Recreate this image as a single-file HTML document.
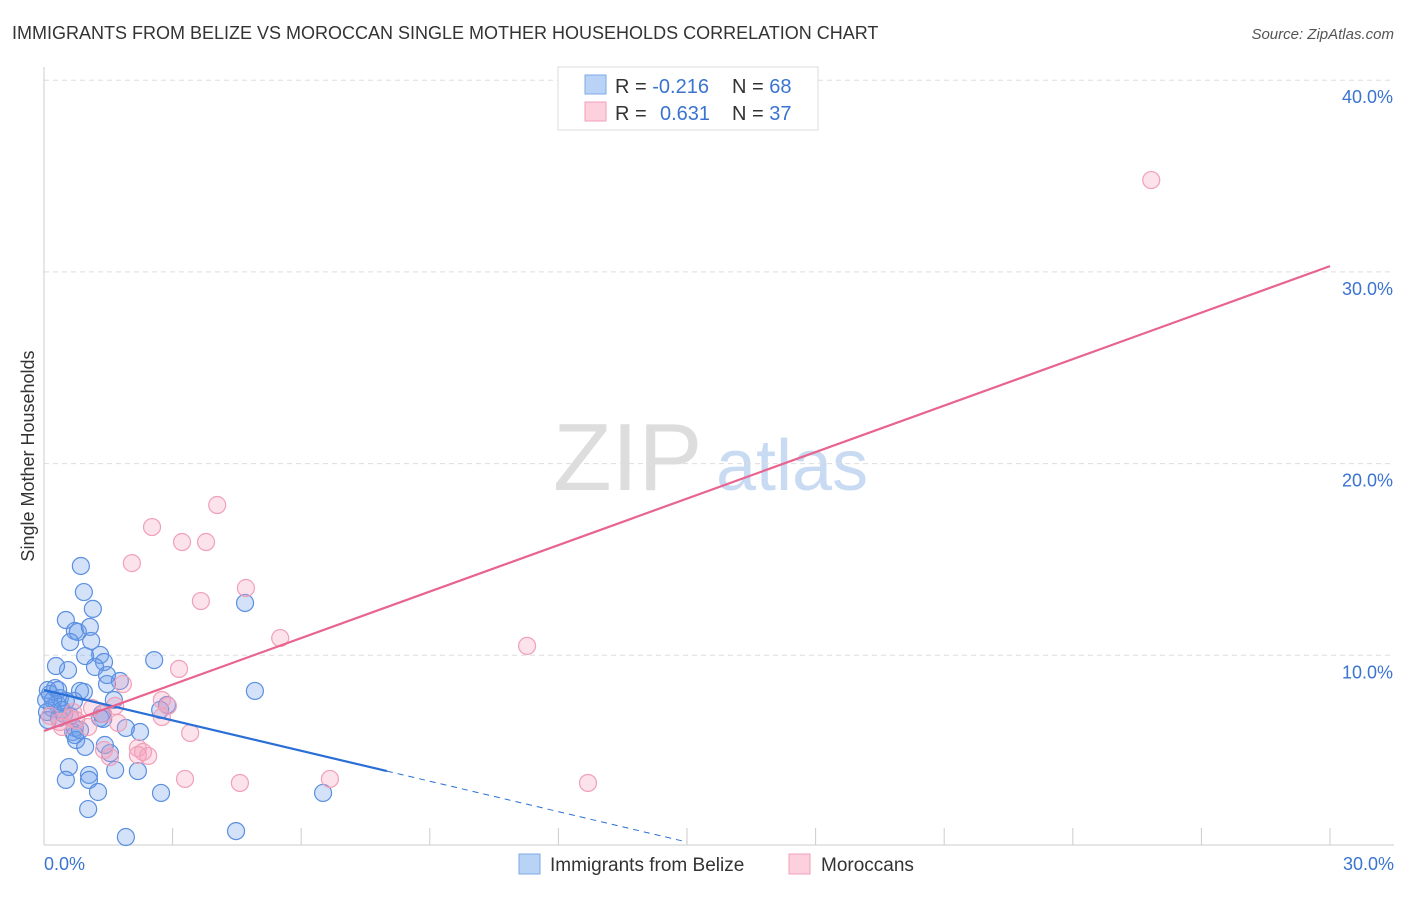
<!DOCTYPE html>
<html><head><meta charset="utf-8"><style>
body{margin:0;background:#fff;font-family:"Liberation Sans",sans-serif;}
svg text{font-family:"Liberation Sans",sans-serif;}
</style></head><body>
<svg id="chart" width="1406" height="892" xmlns="http://www.w3.org/2000/svg">
<text x="12" y="39" font-size="18" fill="#333">IMMIGRANTS FROM BELIZE VS MOROCCAN SINGLE MOTHER HOUSEHOLDS CORRELATION CHART</text>
<text x="1394" y="39" font-size="15" fill="#555" font-style="italic" text-anchor="end">Source: ZipAtlas.com</text>
<g>
<text x="553" y="490" font-size="96" fill="#ddd" font-family="Liberation Serif,serif">ZIP</text>
<text x="716" y="490" font-size="72" fill="#c9dbf2">atlas</text>
</g>
<g id="grid"></g>
<g id="axes"></g>
<g id="marks"></g>
<text transform="translate(34,456) rotate(-90)" font-size="18" fill="#333" text-anchor="middle">Single Mother Households</text>
<g>
<rect x="558" y="67" width="260" height="63" fill="#fff" stroke="#ddd"/>
<rect x="585" y="75" width="21" height="19" fill="#b8d3f5" stroke="#7fa9e6"/>
<rect x="585" y="102" width="21" height="19" fill="#fcd0dc" stroke="#f0a0b8"/>
<text x="615" y="93" font-size="20" fill="#333">R = <tspan fill="#3a74d0">-0.216</tspan></text>
<text x="732" y="93" font-size="20" fill="#333">N = <tspan fill="#3a74d0">68</tspan></text>
<text x="615" y="120" font-size="20" fill="#333">R = </text>
<text x="660" y="120" font-size="20" fill="#3a74d0">0.631</text>
<text x="732" y="120" font-size="20" fill="#333">N = <tspan fill="#3a74d0">37</tspan></text>
</g>
<g>
<rect x="519" y="854" width="21" height="20" fill="#b8d3f5" stroke="#7fa9e6"/>
<text x="550" y="871" font-size="19" fill="#333">Immigrants from Belize</text>
<rect x="789" y="854" width="21" height="20" fill="#fcd0dc" stroke="#f0a0b8"/>
<text x="821" y="871" font-size="19" fill="#333">Moroccans</text>
</g>
</svg>
<script>
const xTickLabels=["0.0%","30.0%"];
const yTicks=[10,20,30,40];
const yTickLabels=["10.0%","20.0%","30.0%","40.0%"];
const blueX=[0.86,0.93,1.14,0.51,0.72,0.79,1.07,0.61,1.10,0.96,1.31,1.40,1.19,0.56,0.28,1.47,1.77,1.47,2.57,4.69,4.92,0.84,0.93,0.26,0.14,0.37,0.30,0.19,0.07,0.51,0.70,0.47,0.35,0.61,1.63,2.24,1.91,1.54,1.38,1.35,0.72,0.68,0.72,0.75,0.09,0.58,1.05,0.51,1.05,1.66,2.19,1.26,2.73,6.51,1.03,1.91,4.48,2.87,2.71,0.21,0.42,1.31,0.84,0.05,0.09,0.33,0.96,1.42];
const blueY=[14.66,13.30,12.42,11.84,11.27,11.22,11.48,10.69,10.75,9.96,10.02,9.65,9.39,9.23,9.44,8.97,8.66,8.50,9.75,12.73,8.14,8.14,8.09,8.29,7.98,7.77,7.46,7.25,7.04,7.62,7.62,6.94,6.73,6.83,7.67,6.00,6.21,4.90,6.68,6.94,6.21,6.00,5.84,5.58,8.19,4.17,3.76,3.50,3.50,4.02,3.96,2.87,2.82,2.82,1.98,0.52,0.83,7.41,7.15,7.67,7.15,6.73,6.10,7.67,6.62,8.19,5.22,5.32];
const pinkX=[25.83,4.04,2.52,3.22,3.78,2.05,4.71,3.66,5.51,11.27,3.15,1.84,2.75,2.89,1.66,2.75,3.41,1.38,1.12,0.61,0.37,0.14,1.03,0.75,0.42,1.73,1.40,1.54,2.19,2.31,2.43,2.19,3.29,4.57,6.67,12.69,0.68];
const pinkY=[34.79,17.84,16.69,15.91,15.91,14.81,13.51,12.83,10.90,10.49,9.29,8.50,7.67,7.36,7.36,6.78,5.95,6.94,7.25,6.73,6.52,6.83,6.26,6.62,6.26,6.47,5.06,4.69,5.16,4.96,4.75,4.80,3.55,3.34,3.55,3.34,7.04];
const pinkTrend=[6.05,30.3];      // y at x=0, y at x=30
const blueTrend=[8.19,3.96,8.0,15]; // y at 0, y at solidEnd, solidEnd x, dashEnd x
const NS="http://www.w3.org/2000/svg";
const X=v=>44+v/30*1286, Y=v=>847-v*19.17;
function mk(tag,attrs,parent){const e=document.createElementNS(NS,tag);for(const k in attrs)e.setAttribute(k,attrs[k]);parent.appendChild(e);return e;}
const grid=document.getElementById('grid'),axes=document.getElementById('axes'),marks=document.getElementById('marks');
yTicks.forEach((t,i)=>{
 const l=mk('line',{x1:44,x2:1394,y1:Y(t),y2:Y(t),stroke:'#ddd','stroke-dasharray':'5,4'},grid);
 
 
 const tx=mk('text',{x:1393,y:Y(t)+23,'font-size':18,fill:'#3a74d0','text-anchor':'end'},axes);
 tx.textContent=yTickLabels[i];
 
 
});
const ax=mk('line',{x1:44,x2:1394,y1:845,y2:845,stroke:'#ccc'},axes);


const ay=mk('line',{x1:44,x2:44,y1:67,y2:845,stroke:'#ccc'},axes);


for(let t=0;t<=30;t+=3){
 const k=mk('line',{x1:X(t),x2:X(t),y1:828,y2:845,stroke:'#ccc'},axes);
 
 
}
[[0,'start',44],[30,'end',1394]].forEach((d,i)=>{
 const tx=mk('text',{x:d[2],y:870,'font-size':18,fill:'#3a74d0','text-anchor':d[1]},axes);
 tx.textContent=xTickLabels[i];
 
 
});
blueX.forEach((x,i)=>{
 const c=mk('circle',{cx:X(x),cy:Y(blueY[i]),r:8.5,fill:'rgba(110,160,235,0.3)',stroke:'#5b8fe0','stroke-width':1.2},marks);
 
 
});
pinkX.forEach((x,i)=>{
 const c=mk('circle',{cx:X(x),cy:Y(pinkY[i]),r:8.5,fill:'rgba(245,160,190,0.3)',stroke:'#f0a0b8','stroke-width':1.2},marks);
 
 
});
const slopeB=(blueTrend[1]-blueTrend[0])/blueTrend[2];
const tb=mk('line',{x1:X(0),y1:Y(blueTrend[0]),x2:X(blueTrend[2]),y2:Y(blueTrend[1]),stroke:'#2a6fd6','stroke-width':2.2},marks);


const td=mk('line',{x1:X(blueTrend[2]),y1:Y(blueTrend[1]),x2:X(blueTrend[3]),y2:Y(blueTrend[0]+slopeB*blueTrend[3]),stroke:'#2a6fd6','stroke-width':1,'stroke-dasharray':'6,5'},marks);


const tp=mk('line',{x1:X(0),y1:Y(pinkTrend[0]),x2:X(30),y2:Y(pinkTrend[1]),stroke:'#e8648f','stroke-width':2.2},marks);


</script>
</body></html>
